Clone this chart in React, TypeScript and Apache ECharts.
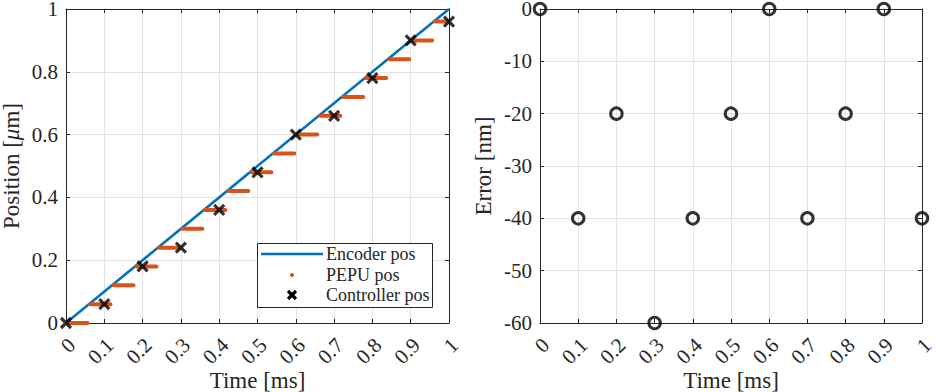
import React, { useEffect, useRef } from "react";
import * as echarts from "echarts";

const encoderTime = [0, 1];
const encoderPos = [0, 1];

const pepuStart = [0, 0.06, 0.12, 0.18, 0.24, 0.3, 0.36, 0.42, 0.48, 0.54, 0.6, 0.66, 0.72, 0.78, 0.84, 0.9, 0.96];
const pepuEnd = [0.06, 0.12, 0.18, 0.24, 0.3, 0.36, 0.42, 0.48, 0.54, 0.6, 0.66, 0.72, 0.78, 0.84, 0.9, 0.96, 1.0];
const pepuLevel = [0, 0.06, 0.12, 0.18, 0.24, 0.3, 0.36, 0.42, 0.48, 0.54, 0.6, 0.66, 0.72, 0.78, 0.84, 0.9, 0.96];

const ctrlTime = [0, 0.1, 0.2, 0.3, 0.4, 0.5, 0.6, 0.7, 0.8, 0.9, 1.0];
const ctrlPos = [0, 0.06, 0.18, 0.24, 0.36, 0.48, 0.6, 0.66, 0.78, 0.9, 0.96];
const errorNm = [0, -40, -20, -60, -40, -20, 0, -40, -20, 0, -40];

const legendLabels = ["Encoder pos", "PEPU pos", "Controller pos"];

const FONT = "'Liberation Serif', 'DejaVu Serif', serif";
const AX = "#262626";
const BLUE = "#0072BD";
const ORANGE = "#D95319";
const GRIDC = "#e3e3e3";

export default function App() {
  const ref = useRef<HTMLDivElement>(null);
  useEffect(() => {
    if (!ref.current) return;
    const chart = echarts.init(ref.current, null, { renderer: "svg" });

    const grids = [
      { left: 66, top: 9, width: 383, height: 314, outerBoundsMode: "none", containLabel: false },
      { left: 540, top: 9, width: 382, height: 314, outerBoundsMode: "none", containLabel: false },
    ];

    const mainX = (gi: number, gap: number) => ({
      type: "value",
      gridIndex: gi,
      min: 0,
      max: 1,
      interval: 0.1,
      name: "Time [ms]",
      nameLocation: "middle",
      nameGap: gap,
      nameMoveOverlap: false,
      nameTextStyle: { fontFamily: FONT, fontSize: 23, color: AX },
      axisLine: { show: true, onZero: false, lineStyle: { color: AX, width: 1 } },
      axisTick: { show: true, inside: true, length: 4, lineStyle: { color: AX } },
      axisLabel: {
        rotate: 45,
        margin: 13,
        verticalAlign: "top",
        lineHeight: 16,
        fontFamily: FONT,
        fontSize: 21,
        color: AX,
      },
      splitLine: { show: true, lineStyle: { color: GRIDC, width: 1 } },
    });
    const topX = (gi: number) => ({
      type: "value",
      gridIndex: gi,
      position: "top",
      min: 0,
      max: 1,
      interval: 0.1,
      axisLine: { show: true, onZero: false, lineStyle: { color: AX, width: 1 } },
      axisTick: { show: true, inside: true, length: 4, lineStyle: { color: AX } },
      axisLabel: { show: false },
      splitLine: { show: false },
    });
    const sideY = (gi: number, min: number, max: number, interval: number) => ({
      type: "value",
      gridIndex: gi,
      position: "right",
      min,
      max,
      interval,
      axisLine: { show: true, onZero: false, lineStyle: { color: AX, width: 1 } },
      axisTick: { show: true, inside: true, length: 4, lineStyle: { color: AX } },
      axisLabel: { show: false },
      splitLine: { show: false },
    });

    const legendText = (i: number, y: number) => ({
      type: "text",
      x: 326,
      y,
      z: 101,
      style: {
        text: legendLabels[i],
        fontFamily: FONT,
        fontSize: 18,
        fill: AX,
        verticalAlign: "middle",
        align: "left",
      },
    });

    const option: any = {
      animation: false,
      backgroundColor: "#ffffff",
      grid: grids,
      xAxis: [mainX(0, 46), mainX(1, 46), topX(0), topX(1)],
      yAxis: [
        {
          type: "value",
          gridIndex: 0,
          min: 0,
          max: 1,
          interval: 0.2,
          name: "{a|Position [}{i|μ}{a|m]}",
          nameLocation: "middle",
          nameGap: 43,
          nameTextStyle: {
            fontFamily: FONT,
            fontSize: 23,
            color: AX,
            rich: {
              a: { fontFamily: FONT, fontSize: 23, color: AX },
              i: { fontFamily: FONT, fontSize: 23, color: AX, fontStyle: "italic" },
            },
          },
          axisLine: { show: true, onZero: false, lineStyle: { color: AX, width: 1 } },
          axisTick: { show: true, inside: true, length: 4, lineStyle: { color: AX } },
          axisLabel: { margin: 8, lineHeight: 16, fontFamily: FONT, fontSize: 21, color: AX },
          splitLine: { show: true, lineStyle: { color: GRIDC, width: 1 } },
        },
        {
          type: "value",
          gridIndex: 1,
          min: -60,
          max: 0,
          interval: 10,
          name: "Error [nm]",
          nameLocation: "middle",
          nameGap: 45,
          nameTextStyle: { fontFamily: FONT, fontSize: 23, color: AX },
          axisLine: { show: true, onZero: false, lineStyle: { color: AX, width: 1 } },
          axisTick: { show: true, inside: true, length: 4, lineStyle: { color: AX } },
          axisLabel: { margin: 8, lineHeight: 16, fontFamily: FONT, fontSize: 21, color: AX },
          splitLine: { show: true, lineStyle: { color: GRIDC, width: 1 } },
        },
        sideY(0, 0, 1, 0.2),
        sideY(1, -60, 0, 10),
      ],
      series: [
        {
          type: "line",
          name: legendLabels[0],
          xAxisIndex: 0,
          yAxisIndex: 0,
          data: encoderTime.map((t, i) => [t, encoderPos[i]]),
          showSymbol: false,
          lineStyle: { color: BLUE, width: 2.6 },
          z: 2,
        },
        {
          type: "custom",
          name: legendLabels[1],
          xAxisIndex: 0,
          yAxisIndex: 0,
          data: pepuStart.map((s, i) => [s, pepuEnd[i], pepuLevel[i]]),
          encode: { x: [0, 1], y: 2 },
          renderItem: (params: any, api: any) => {
            const p1 = api.coord([api.value(0), api.value(2)]);
            const p2 = api.coord([api.value(1), api.value(2)]);
            return {
              type: "line",
              shape: { x1: p1[0] + 1.5, y1: p1[1], x2: p2[0] - 1.5, y2: p2[1] },
              style: { stroke: ORANGE, lineWidth: 4, lineCap: "round" },
            };
          },
          z: 3,
        },
        {
          type: "scatter",
          name: legendLabels[2],
          xAxisIndex: 0,
          yAxisIndex: 0,
          data: ctrlTime.map((t, i) => [t, ctrlPos[i]]),
          symbol: "path://M0,0L10,10M10,0L0,10",
          symbolSize: 10,
          clip: false,
          itemStyle: { color: "none", borderColor: "#000", borderWidth: 3.2 },
          z: 4,
        },
        {
          type: "scatter",
          xAxisIndex: 1,
          yAxisIndex: 1,
          data: ctrlTime.map((t, i) => [t, errorNm[i]]),
          symbol: "circle",
          symbolSize: 11.5,
          clip: false,
          itemStyle: { color: "none", borderColor: "#000", borderWidth: 3 },
          z: 4,
        },
      ],
      graphic: [
        {
          type: "rect",
          z: 100,
          shape: { x: 257.5, y: 243.5, width: 175, height: 64 },
          style: { fill: "#fff", stroke: AX, lineWidth: 1 },
        },
        {
          type: "line",
          z: 101,
          shape: { x1: 261, y1: 254, x2: 323, y2: 254 },
          style: { stroke: BLUE, lineWidth: 2.6 },
        },
        {
          type: "circle",
          z: 101,
          shape: { cx: 292, cy: 275, r: 2 },
          style: { fill: ORANGE },
        },
        {
          type: "line",
          z: 101,
          shape: { x1: 288, y1: 291, x2: 296, y2: 299 },
          style: { stroke: "#000", lineWidth: 3.2 },
        },
        {
          type: "line",
          z: 101,
          shape: { x1: 296, y1: 291, x2: 288, y2: 299 },
          style: { stroke: "#000", lineWidth: 3.2 },
        },
        legendText(0, 254),
        legendText(1, 275),
        legendText(2, 295),
      ],
    };
    chart.setOption(option);
    return () => chart.dispose();
  }, []);
  return (
    <div
      ref={ref}
      style={{ position: "fixed", left: 0, top: 0, width: 936, height: 392, background: "#fff" }}
    />
  );
}
